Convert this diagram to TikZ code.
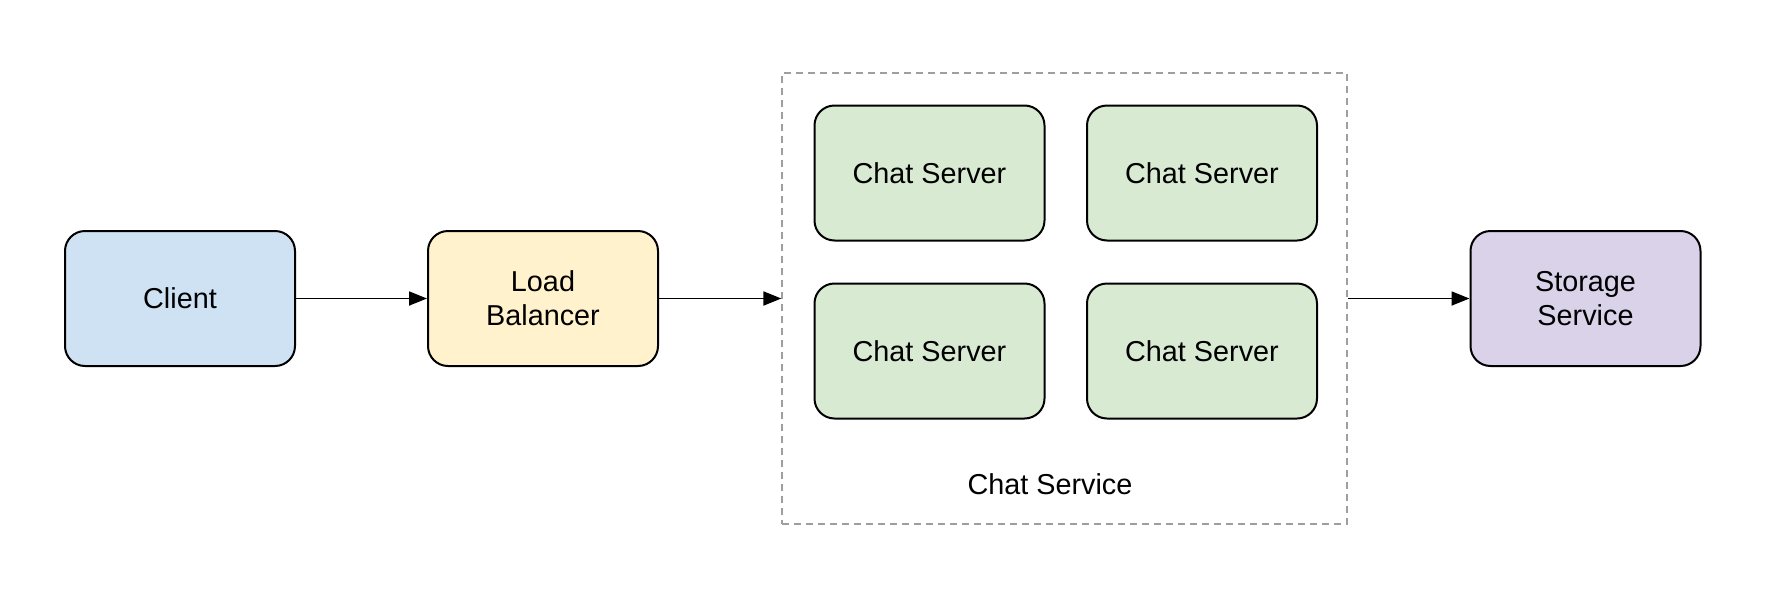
\documentclass[tikz,border=0pt]{standalone}
\usepackage{fontspec}
\setmainfont{Liberation Sans}
\usetikzlibrary{arrows.meta}
\definecolor{cblue}{HTML}{CFE2F3}
\definecolor{cyellow}{HTML}{FFF2CC}
\definecolor{cgreen}{HTML}{D9EAD3}
\definecolor{cpurple}{HTML}{D9D2E9}
\definecolor{cdash}{HTML}{9E9E9E}
\begin{document}
\begin{tikzpicture}[x=0.5pt,y=-0.5pt,
  box/.style={draw=black, line width=1pt, rounded corners=10pt, minimum width=115pt, minimum height=67.5pt, align=center, inner sep=0pt, font=\fontsize{14.4}{17}\selectfont},
  grp/.style={draw=cdash, line width=0.6pt, dash pattern=on 3.5pt off 2.5pt, minimum width=282.5pt, minimum height=225.5pt, inner sep=0pt},
  lbl/.style={font=\fontsize{14.4}{17}\selectfont, inner sep=0pt},
  arr/.style={draw=black, line width=0.9pt, -{Triangle[length=9pt,width=7pt]}}]
\useasboundingbox[fill=white] (0,0) rectangle (1784,600);
\node[grp] (svc) at (1064.5,298.5) {};
\node[box, fill=cblue] (client) at (180,298.5) {Client};
\node[box, fill=cyellow] (lb) at (543,298.5) {Load\\Balancer};
\node[box, fill=cgreen] (cs1) at (929.5,173) {Chat Server};
\node[box, fill=cgreen] (cs2) at (1202,173) {Chat Server};
\node[box, fill=cgreen] (cs3) at (929.5,351) {Chat Server};
\node[box, fill=cgreen] (cs4) at (1202,351) {Chat Server};
\node[box, fill=cpurple] (store) at (1585.5,298.5) {Storage\\Service};
\node[lbl] (svclbl) at (1050,484) {Chat Service};
\draw[arr] (client) -- (lb);
\draw[arr] (lb) -- (svc);
\draw[arr] (svc) -- (store);
\end{tikzpicture}
\end{document}
